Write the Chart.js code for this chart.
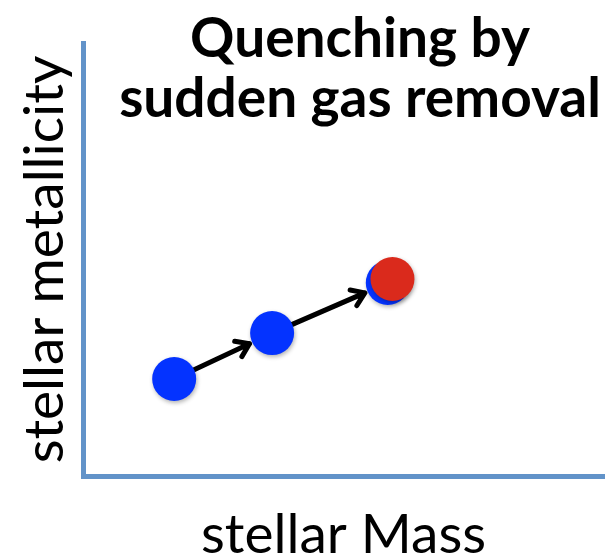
<!DOCTYPE html>
<html>
<head>
<meta charset="utf-8">
<script src="https://cdn.jsdelivr.net/npm/chart.js@4.4.1/dist/chart.umd.min.js"></script>
<style>
  html, body { margin: 0; padding: 0; background: #fff; overflow: hidden; }
  /* a bit wider than the window: chart.js keeps point-radius room on the right */
  #wrap { width: 626px; height: 558px; }
  canvas { display: block; }
</style>
</head>
<body>
<div id="wrap"><canvas id="grafico"></canvas></div>
<script>
// schematic values (arbitrary units)
const massaAzul = [1.75, 3.63, 5.85];
const metalAzul = [2.24, 3.30, 4.46];
const massaVermelho = [5.94];
const metalVermelho = [4.55];

const tituloLinhas = ['Quenching by', 'sudden gas removal'];
const rotuloX = 'stellar Mass';
const rotuloY = 'stellar metallicity';

const corEixo = '#6293c9';

function juntaPontos(xs, ys) {
  return xs.map((x, i) => ({ x: x, y: ys[i] }));
}

// arrows between consecutive blue points
const setas = {
  id: 'setas',
  beforeDatasetsDraw(chart) {
    const ctx = chart.ctx;
    const sx = chart.scales.x;
    const sy = chart.scales.y;
    const raio = 22;
    ctx.save();
    ctx.strokeStyle = '#000';
    ctx.lineWidth = 5;
    ctx.lineCap = 'round';
    ctx.lineJoin = 'round';
    for (let i = 0; i < massaAzul.length - 1; i++) {
      const x0 = sx.getPixelForValue(massaAzul[i]);
      const y0 = sy.getPixelForValue(metalAzul[i]);
      const x1 = sx.getPixelForValue(massaAzul[i + 1]);
      const y1 = sy.getPixelForValue(metalAzul[i + 1]);
      const ang = Math.atan2(y1 - y0, x1 - x0);
      const ax = x0 + Math.cos(ang) * raio;
      const ay = y0 + Math.sin(ang) * raio;
      const bx = x1 - Math.cos(ang) * (raio + 3);
      const by = y1 - Math.sin(ang) * (raio + 3);
      ctx.beginPath();
      ctx.moveTo(ax, ay);
      ctx.lineTo(bx, by);
      const cab = 15;
      ctx.moveTo(bx - Math.cos(ang - 0.6) * cab, by - Math.sin(ang - 0.6) * cab);
      ctx.lineTo(bx, by);
      ctx.lineTo(bx - Math.cos(ang + 0.6) * cab, by - Math.sin(ang + 0.6) * cab);
      ctx.stroke();
    }
    ctx.restore();
  }
};

// soft drop shadow under the dots
const sombra = {
  id: 'sombra',
  beforeDatasetDraw(chart) {
    const ctx = chart.ctx;
    ctx.shadowColor = 'rgba(0,0,0,0.3)';
    ctx.shadowBlur = 4;
    ctx.shadowOffsetX = 1;
    ctx.shadowOffsetY = 2;
  },
  afterDatasetDraw(chart) {
    const ctx = chart.ctx;
    ctx.shadowColor = 'rgba(0,0,0,0)';
    ctx.shadowBlur = 0;
    ctx.shadowOffsetX = 0;
    ctx.shadowOffsetY = 0;
  }
};

// two-line bold heading sitting over the upper right of the plot
const tituloGrande = {
  id: 'tituloGrande',
  afterDraw(chart) {
    const ctx = chart.ctx;
    ctx.save();
    ctx.fillStyle = '#000';
    ctx.font = 'bold 55px Lato';
    ctx.textAlign = 'center';
    ctx.textBaseline = 'alphabetic';
    ctx.fillText(tituloLinhas[0], 360, 57);
    ctx.fillText(tituloLinhas[1], 360, 117);
    ctx.restore();
  }
};

const grafico = new Chart(document.getElementById('grafico'), {
  type: 'scatter',
  data: {
    datasets: [{
      label: 'quenched',
      data: juntaPontos(massaVermelho, metalVermelho),
      backgroundColor: '#da2a1c',
      borderWidth: 0,
      pointRadius: 22,
      pointHoverRadius: 22,
      order: 0
    }, {
      label: 'star forming',
      data: juntaPontos(massaAzul, metalAzul),
      backgroundColor: '#0433ff',
      borderWidth: 0,
      pointRadius: 22,
      pointHoverRadius: 22,
      order: 1
    }]
  },
  plugins: [setas, sombra, tituloGrande],
  options: {
    responsive: true,
    maintainAspectRatio: false,
    animation: false,
    layout: { padding: { left: 0, top: 43, right: 0, bottom: 0 } },
    plugins: {
      legend: { display: false },
      tooltip: { enabled: false }
    },
    scales: {
      x: {
        min: 0, max: 10,
        ticks: { display: false },
        grid: { display: false, drawTicks: false },
        border: { display: true, color: corEixo, width: 5 },
        title: {
          display: true, text: rotuloX, color: '#000',
          font: { family: 'Lato', size: 55, lineHeight: 0.8 },
          padding: { top: 37, bottom: 1 }
        }
      },
      y: {
        min: 0, max: 10,
        ticks: { display: false },
        grid: { display: false, drawTicks: false },
        border: { display: true, color: corEixo, width: 5 },
        title: {
          display: true, text: rotuloY, color: '#000',
          font: { family: 'Lato', size: 55, lineHeight: 0.8 },
          padding: { top: 23, bottom: 16 }
        }
      }
    }
  }
});
</script>
</body>
</html>
